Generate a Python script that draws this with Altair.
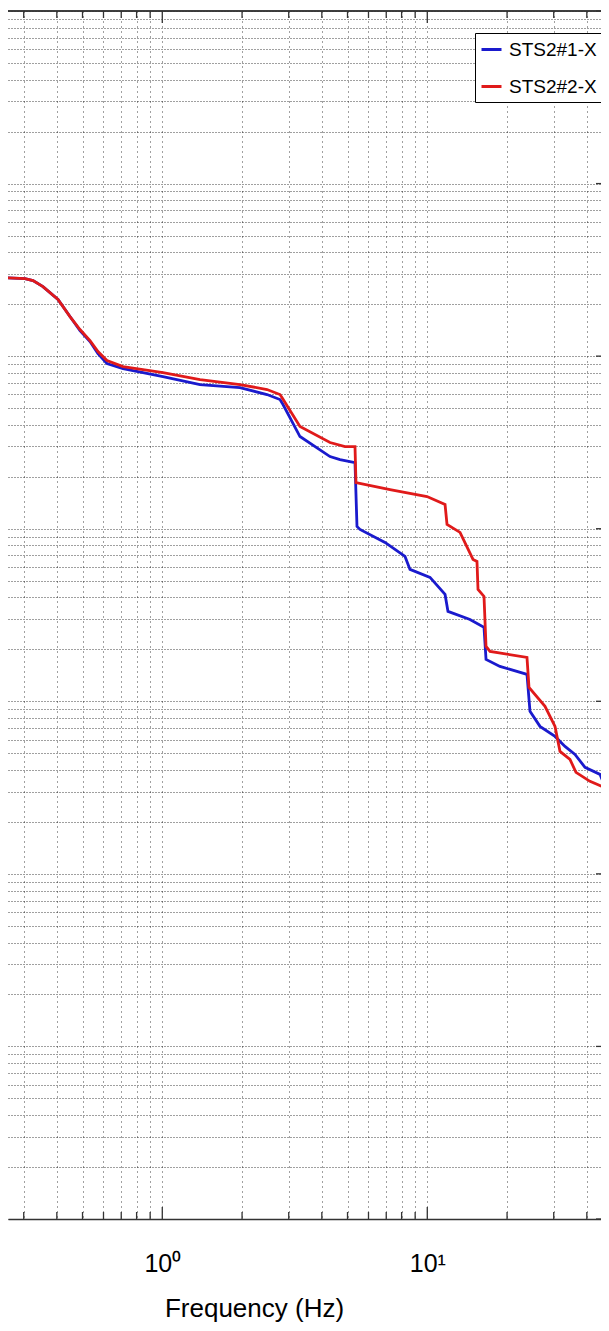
import altair as alt
import pandas as pd

# ---- data (frequency in Hz, PSD value) ----
freq_1 = [0.2441, 0.3032, 0.3252, 0.3546, 0.4041, 0.4484, 0.4892, 0.5336, 0.5719, 0.6184,
          0.7109, 0.8456, 1.006, 1.388, 1.964, 2.484, 2.781, 2.855, 3.308, 4.294,
          4.684, 5.336, 5.429, 5.572, 6.925, 7.553, 8.239, 8.604, 10.24, 11.67,
          11.97, 14.49, 16.37, 16.66, 18.80, 23.78, 24.41, 26.63, 30.34, 33.09,
          36.09, 39.37, 44.86, 47.25, 48.08, 49.77]
psd_1 = [2.853e-8, 2.815e-8, 2.742e-8, 2.530e-8, 2.128e-8, 1.696e-8, 1.407e-8, 1.215e-8, 1.035e-8, 9.060e-9,
         8.476e-9, 8.035e-9, 7.617e-9, 6.845e-9, 6.576e-9, 5.990e-9, 5.604e-9, 5.243e-9, 3.421e-9, 2.619e-9,
         2.516e-9, 2.417e-9, 1.031e-9, 9.906e-10, 8.330e-10, 7.586e-10, 6.909e-10, 5.809e-10, 5.222e-10, 4.162e-10,
         3.317e-10, 2.981e-10, 2.680e-10, 1.749e-10, 1.593e-10, 1.431e-10, 8.740e-11, 7.153e-11, 6.259e-11, 5.478e-11,
         4.924e-11, 4.140e-11, 3.771e-11, 3.087e-11, 2.272e-11, 1.811e-11]

freq_2 = [0.2441, 0.3032, 0.3252, 0.3546, 0.4041, 0.4484, 0.4892, 0.5336, 0.5719, 0.6184,
          0.7109, 0.8456, 1.006, 1.388, 1.964, 2.484, 2.781, 2.829, 3.308, 4.294,
          4.892, 5.336, 5.382, 7.231, 9.975, 11.67, 11.87, 13.29, 14.88, 15.40,
          15.54, 16.37, 16.66, 17.25, 23.78, 24.20, 27.81, 30.34, 31.68, 34.55,
          36.40, 41.11, 46.44, 47.25, 48.08, 49.77]
psd_2 = [2.853e-8, 2.815e-8, 2.742e-8, 2.530e-8, 2.128e-8, 1.696e-8, 1.426e-8, 1.231e-8, 1.063e-8, 9.430e-9,
         8.704e-9, 8.364e-9, 8.035e-9, 7.318e-9, 6.845e-9, 6.403e-9, 5.990e-9, 5.756e-9, 3.909e-9, 3.157e-9,
         2.993e-9, 2.993e-9, 1.852e-9, 1.687e-9, 1.537e-9, 1.381e-9, 1.059e-9, 9.519e-10, 6.638e-10, 6.464e-10,
         4.448e-10, 4.052e-10, 2.079e-10, 1.945e-10, 1.796e-10, 1.203e-10, 9.343e-11, 7.153e-11, 5.125e-11, 4.606e-11,
         3.873e-11, 3.435e-11, 3.170e-11, 2.701e-11, 1.263e-11, 7.113e-12]

series_names = ["STS2#1-X", "STS2#2-X"]
series_colors = ["#1a1acd", "#e01a1a"]

# axis tick positions
x_major = [1, 10]
x_minor = [0.3, 0.4, 0.5, 0.6, 0.7, 0.8, 0.9, 2, 3, 4, 5, 6, 7, 8, 9, 20, 30, 40]
y_decades = [1e-13, 1e-12, 1e-11, 1e-10, 1e-9, 1e-8, 1e-7, 1e-6]
y_mult = [1, 2, 3, 4, 5, 6, 7, 8, 9]

# visible part of the axes (the picture is a crop of a wider plot)
x_domain = [0.2617, 45.24]
y_domain = [1e-13, 1e-6]

W, H = 593, 1208
FONT = "Liberation Sans, Arial, sans-serif"

rows = []
for f, v in zip(freq_1, psd_1):
    rows.append({"freq": f, "psd": v, "series": series_names[0]})
for f, v in zip(freq_2, psd_2):
    rows.append({"freq": f, "psd": v, "series": series_names[1]})
df = pd.DataFrame(rows)

y_grid = [m * d for d in y_decades[:-1] for m in y_mult] + [y_decades[-1]]
x_grid = sorted(x_major + x_minor)

xs = alt.Scale(type="log", domain=x_domain, nice=False)
ys = alt.Scale(type="log", domain=y_domain, nice=False)

x_axis = alt.Axis(values=x_grid, grid=True, gridDash=[1, 4], gridColor="#000000",
                  gridOpacity=0.75, gridWidth=1, ticks=False, tickSize=0,
                  domain=True, domainColor="#333333", domainWidth=1.5,
                  labelExpr="datum.value == 1 ? '10⁰' : (datum.value == 10 ? '10¹' : '')",
                  labelFont=FONT, labelFontSize=25, labelColor="#000000",
                  labelPadding=52, labelBaseline="alphabetic", labelOverlap=False,
                  labelFlush=False,
                  title="Frequency (Hz)", titleFont=FONT, titleFontSize=26,
                  titleFontWeight="normal", titleColor="#000000",
                  titleX=246, titleY=97, titleBaseline="alphabetic", titleAlign="center")
y_axis = alt.Axis(values=y_grid, grid=True, gridDash=[1, 2], gridColor="#000000",
                  gridOpacity=0.75, gridWidth=1, ticks=False, labels=False,
                  domain=False, title=None)

lines = alt.Chart(df).mark_line(strokeWidth=2.8, clip=True).encode(
    x=alt.X("freq:Q", scale=xs, axis=x_axis),
    y=alt.Y("psd:Q", scale=ys, axis=y_axis),
    color=alt.Color("series:N",
                    scale=alt.Scale(domain=series_names, range=series_colors),
                    legend=alt.Legend(title=None, orient="none", legendX=467, legendY=22,
                                      fillColor="#ffffff", strokeColor="#000000", padding=5,
                                      symbolType="stroke", symbolSize=400, symbolStrokeWidth=3,
                                      labelFont=FONT, labelFontSize=19, labelColor="#000000",
                                      labelOffset=6, rowPadding=15, labelLimit=200)),
)

xmaj = pd.DataFrame({"freq": x_major})
xmin = pd.DataFrame({"freq": x_minor})
ydec = pd.DataFrame({"psd": y_decades})

tick_style = dict(color="#333333", strokeWidth=1.3)
bot_major = alt.Chart(xmaj).mark_rule(**tick_style).encode(
    x=alt.X("freq:Q", scale=xs), y=alt.value(H), y2=alt.value(H - 12))
bot_minor = alt.Chart(xmin).mark_rule(**tick_style).encode(
    x=alt.X("freq:Q", scale=xs), y=alt.value(H), y2=alt.value(H - 7))
top_major = alt.Chart(xmaj).mark_rule(**tick_style).encode(
    x=alt.X("freq:Q", scale=xs), y=alt.value(0), y2=alt.value(12))
top_minor = alt.Chart(xmin).mark_rule(**tick_style).encode(
    x=alt.X("freq:Q", scale=xs), y=alt.value(0), y2=alt.value(7))
right_ticks = alt.Chart(ydec).mark_rule(**tick_style).encode(
    y=alt.Y("psd:Q", scale=ys), x=alt.value(W - 5), x2=alt.value(W))
top_line = alt.Chart(xmaj).mark_rule(color="#333333", strokeWidth=1.5).encode(
    x=alt.value(0), x2=alt.value(W), y=alt.value(0))

chart = alt.layer(lines, bot_major, bot_minor, top_major, top_minor, right_ticks, top_line).properties(
    width=W, height=H, background="#ffffff",
    autosize=alt.AutoSizeParams(type="none"),
    padding={"left": 0, "top": 3, "right": 0, "bottom": 104},
).configure_view(stroke=None)

chart.save("out.html", embed_options={"renderer": "svg", "actions": False})
